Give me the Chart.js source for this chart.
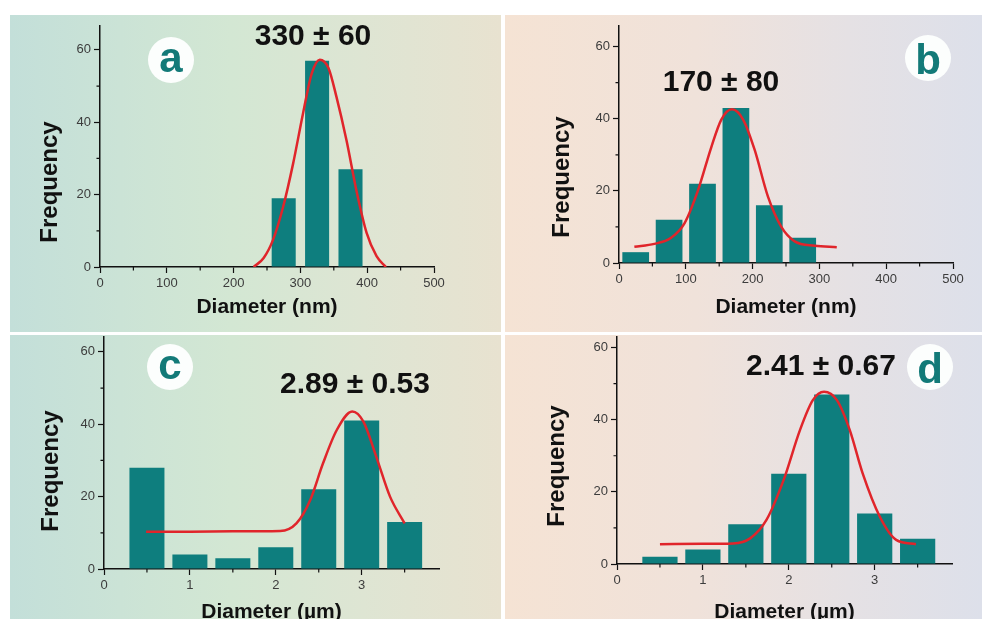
<!DOCTYPE html>
<html>
<head>
<meta charset="utf-8">
<script src="https://cdn.jsdelivr.net/npm/chart.js@4.4.1/dist/chart.umd.min.js"></script>
<style>
    body { margin: 0; background: #fff; width: 982px; height: 620px; overflow: hidden; position: relative; }
    .panel { position: absolute; overflow: hidden; }
    .green { background: linear-gradient(to right, #c3dfd9 0%, #d3e7d3 45%, #dee5d3 72%, #e8e2d0 100%); }
    .peach { background: linear-gradient(to right, #f5e3d4 0%, #f0e2da 40%, #e5e1e4 72%, #dde0ea 100%); }
    #pa { left: 10px; top: 15px; width: 491px; height: 317px; }
    #pb { left: 505px; top: 15px; width: 477px; height: 317px; }
    #pc { left: 10px; top: 335px; width: 491px; height: 284px; }
    #pd { left: 505px; top: 335px; width: 477px; height: 284px; }
</style>
</head>
<body>
<div class="panel green" id="pa"><canvas id="ca" width="491" height="317"></canvas></div>
<div class="panel peach" id="pb"><canvas id="cb" width="477" height="317"></canvas></div>
<div class="panel green" id="pc"><canvas id="cc" width="491" height="300"></canvas></div>
<div class="panel peach" id="pd"><canvas id="cd" width="477" height="300"></canvas></div>
<script>
// axis ticks
const nmTicks = [0, 100, 200, 300, 400, 500];
const nmMinor = [50, 150, 250, 350, 450];
const umTicks = [0, 1, 2, 3];
const umMinor = [0.5, 1.5, 2.5, 3.5];
const freqTicks = [0, 20, 40, 60];
const freqMinor = [10, 30, 50];

// (a) histogram + gauss fit, nm
const aBins = [275, 325, 375];
const aCounts = [19, 57, 27];
const aFitX = [230, 245, 259, 274, 289, 304, 317, 329, 342, 354, 369, 384, 399, 414, 428];
const aFitY = [0, 2.5, 7.5, 16.5, 28.5, 42.5, 53.5, 57.3, 55, 47, 35, 21, 9.5, 3, 0];

// (b)
const bBins = [25, 75, 125, 175, 225, 275];
const bCounts = [3, 12, 22, 43, 16, 7];
const bFitX = [23, 53, 78, 98, 118, 138, 153, 169, 186, 203, 223, 243, 263, 293, 326];
const bFitY = [4.5, 5.3, 7, 11, 20, 32, 39.7, 42.6, 39.7, 31.4, 18.4, 10, 6, 4.8, 4.4];

// (c) µm
const cBins = [0.5, 1, 1.5, 2, 2.5, 3, 3.5];
const cCounts = [28, 4, 3, 6, 22, 41, 13];
const cFitX = [0.49, 1.0, 1.5, 2.05, 2.24, 2.4, 2.55, 2.71, 2.89, 3.02, 3.17, 3.33, 3.5];
const cFitY = [10.3, 10.3, 10.4, 10.5, 12.6, 19, 29.2, 38.4, 43.5, 40.7, 31, 20, 12.6];

// (d)
const dBins = [0.5, 1, 1.5, 2, 2.5, 3, 3.5];
const dCounts = [2, 4, 11, 25, 47, 14, 7];
const dFitX = [0.5, 1.0, 1.35, 1.55, 1.74, 1.94, 2.13, 2.28, 2.41, 2.56, 2.71, 2.86, 3.06, 3.25, 3.48];
const dFitY = [5.5, 5.6, 5.7, 7.1, 12.2, 23.3, 37.1, 45.4, 47.7, 45.4, 37.1, 25.1, 13.1, 6.7, 5.5];

const FONT = "'Liberation Sans', Arial, sans-serif";
const BAR = '#0e7e7e';
const FIT = '#e0252b';
const TEAL = '#137a78';

const panels = [
    { id: 'ca', letter: 'a', label: '330 ± 60', unit: 'Diameter (nm)',
      bins: aBins, counts: aCounts, fitX: aFitX, fitY: aFitY,
      xMax: 500, xTicks: nmTicks, xMinor: nmMinor, yMax: 66.6, barPct: 0.72,
      area: { left: 90, right: 67, top: 11, bottom: 65 }, titlePad: 12,
      freqPos: [40, 167], labelPos: [303, 22], badge: [161, 45] },
    { id: 'cb', letter: 'b', label: '170 ± 80', unit: 'Diameter (nm)',
      bins: bBins, counts: bCounts, fitX: bFitX, fitY: bFitY,
      xMax: 500, xTicks: nmTicks, xMinor: nmMinor, yMax: 65.7, barPct: 0.8,
      area: { left: 114, right: 29, top: 11, bottom: 69 }, titlePad: 12,
      freqPos: [57, 162], labelPos: [216, 68], badge: [423, 43] },
    { id: 'cc', letter: 'c', label: '2.89 ± 0.53', unit: 'Diameter (µm)',
      bins: cBins, counts: cCounts, fitX: cFitX, fitY: cFitY,
      xMax: 3.9, xTicks: umTicks, xMinor: umMinor, yMax: 64.1, barPct: 0.815,
      area: { left: 94, right: 62, top: 2, bottom: 66 }, titlePad: 10,
      freqPos: [41, 136], labelPos: [345, 50], badge: [160, 32] },
    { id: 'cd', letter: 'd', label: '2.41 ± 0.67', unit: 'Diameter (µm)',
      bins: dBins, counts: dCounts, fitX: dFitX, fitY: dFitY,
      xMax: 3.9, xTicks: umTicks, xMinor: umMinor, yMax: 62.9, barPct: 0.82,
      area: { left: 112, right: 30, top: 2, bottom: 71 }, titlePad: 10,
      freqPos: [52, 131], labelPos: [316, 32], badge: [425, 32] }
];

// minor ticks, y title, value label and the round letter badge
function decor(p) {
    return {
        id: 'decor',
        afterDraw(chart) {
            const ctx = chart.ctx;
            const xs = chart.scales.x;
            const ys = chart.scales.y;
            ctx.save();
            ctx.strokeStyle = '#111';
            ctx.lineWidth = 1.2;
            ctx.beginPath();
            p.xMinor.forEach(v => {
                const px = xs.getPixelForValue(v);
                ctx.moveTo(px, ys.bottom);
                ctx.lineTo(px, ys.bottom + 3.5);
            });
            freqMinor.forEach(v => {
                const py = ys.getPixelForValue(v);
                ctx.moveTo(xs.left - 3.5, py);
                ctx.lineTo(xs.left, py);
            });
            ctx.stroke();

            ctx.fillStyle = '#111';
            ctx.textAlign = 'center';
            ctx.textBaseline = 'middle';
            ctx.font = 'bold 30px ' + FONT;
            ctx.fillText(p.label, p.labelPos[0], p.labelPos[1]);

            ctx.save();
            ctx.translate(p.freqPos[0], p.freqPos[1]);
            ctx.rotate(-Math.PI / 2);
            ctx.font = 'bold 24px ' + FONT;
            ctx.fillText('Frequency', 0, 0);
            ctx.restore();

            const [cx, cy] = p.badge;
            ctx.beginPath();
            ctx.arc(cx, cy, 23, 0, Math.PI * 2);
            ctx.fillStyle = '#fcfefd';
            ctx.fill();
            ctx.font = 'bold 42px ' + FONT;
            ctx.fillStyle = TEAL;
            ctx.textBaseline = 'alphabetic';
            const m = ctx.measureText(p.letter);
            ctx.fillText(p.letter, cx, cy + (m.actualBoundingBoxAscent - m.actualBoundingBoxDescent) / 2);
            ctx.restore();
        }
    };
}

function drawPanel(p) {
    const fit = p.fitX.map((x, i) => ({ x: x, y: p.fitY[i] }));
    const hist = p.bins.map((x, i) => ({ x: x, y: p.counts[i] }));

    const tickFont = { family: FONT, size: 13 };
    const grid = { drawOnChartArea: false, offset: false, tickLength: 6, tickColor: '#111', tickWidth: 1.2 };
    const border = { color: '#111', width: 1.5 };

    const config = {
        type: 'bar',
        data: {
            datasets: [
                { type: 'line', data: fit, borderColor: FIT, borderWidth: 2.5, pointRadius: 0,
                  cubicInterpolationMode: 'monotone', fill: false, order: 0 },
                { type: 'bar', data: hist, backgroundColor: BAR, borderWidth: 0,
                  categoryPercentage: 1, barPercentage: p.barPct, order: 1 }
            ]
        },
        plugins: [decor(p)],
        options: {
            responsive: false,
            devicePixelRatio: 1,
            animation: false,
            layout: { padding: { top: p.area.top, right: p.area.right, left: 0, bottom: 0 } },
            plugins: { legend: { display: false }, tooltip: { enabled: false } },
            scales: {
                x: {
                    type: 'linear', min: 0, max: p.xMax, offset: false,
                    grid: grid, border: border,
                    ticks: { font: tickFont, color: '#3c3c3c', padding: 3, autoSkip: false, maxRotation: 0 },
                    title: { display: true, text: p.unit, color: '#111',
                             font: { family: FONT, size: 21, weight: 'bold' },
                             padding: { top: 0, bottom: p.titlePad } },
                    afterBuildTicks: s => { s.ticks = p.xTicks.map(v => ({ value: v })); },
                    afterFit: s => { s.height = p.area.bottom; s.paddingLeft = 0; s.paddingRight = 0; }
                },
                y: {
                    min: 0, max: p.yMax,
                    grid: grid, border: border,
                    ticks: { font: tickFont, color: '#3c3c3c', padding: 3 },
                    afterBuildTicks: s => { s.ticks = freqTicks.map(v => ({ value: v })); },
                    afterFit: s => { s.width = p.area.left; s.paddingTop = 0; s.paddingBottom = 0; }
                }
            }
        }
    };

    return new Chart(document.getElementById(p.id), config);
}

panels.forEach(drawPanel);
</script>
</body>
</html>
